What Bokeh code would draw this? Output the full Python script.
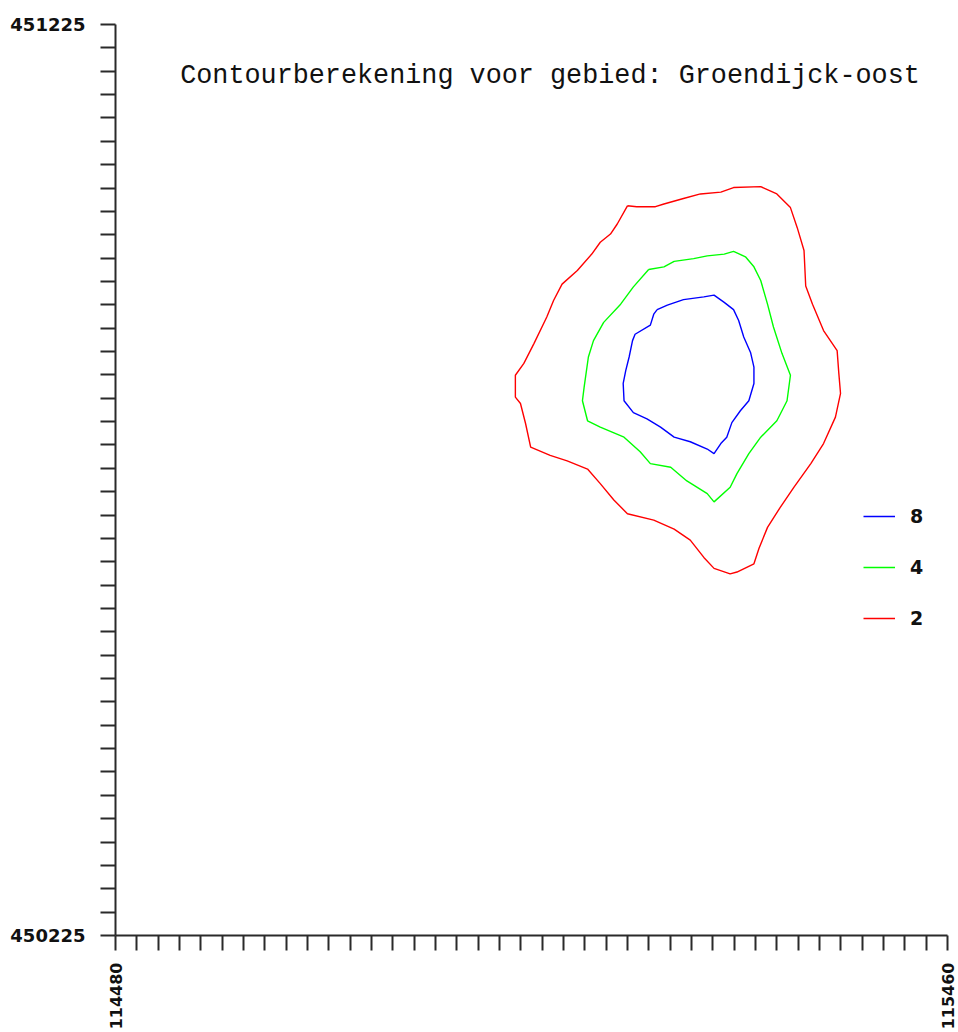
import numpy as np
from bokeh.plotting import figure
from bokeh.models import (Range1d, FixedTicker, CustomJSTickFormatter, Label,
                          Legend, LegendItem)
from bokeh.embed import file_html
from bokeh.resources import INLINE

# ---- data -------------------------------------------------------------
title_text = "Contourberekening voor gebied: Groendijck-oost"
x_min, x_max = 114480, 115460
y_min, y_max = 450225, 451225
n_ticks = 40

levels = ["8", "4", "2"]
level_colors = ["#0000FF", "#00FF00", "#FF0000"]

# contour level 2 (red)
c2_x = [115083, 115094, 115116, 115126, 115149, 115169, 115193, 115208, 115240, 115259,
        115275, 115283, 115291, 115293, 115301, 115314, 115330, 115332, 115334, 115328,
        115314, 115299, 115279, 115263, 115248, 115238, 115232, 115212, 115204, 115185,
        115173, 115157, 115138, 115114, 115083, 115067, 115051, 115036, 115012, 114992,
        114969, 114963, 114957, 114951, 114951, 114961, 114973, 114988, 114996, 115006,
        115024, 115041, 115051, 115063, 115071, 115083]
c2_y = [451026, 451025, 451025, 451028, 451034, 451039, 451041, 451046, 451047, 451039,
        451024, 451002, 450977, 450938, 450918, 450889, 450867, 450842, 450820, 450794,
        450765, 450743, 450717, 450695, 450673, 450650, 450633, 450624, 450622, 450628,
        450640, 450659, 450671, 450681, 450688, 450703, 450721, 450737, 450746, 450752,
        450761, 450787, 450809, 450816, 450840, 450853, 450875, 450904, 450922, 450940,
        450955, 450973, 450986, 450995, 451006, 451026]

# contour level 4 (green)
c4_x = [115108, 115126, 115138, 115161, 115177, 115197, 115208, 115222, 115232, 115240,
        115248, 115255, 115265, 115275, 115271, 115259, 115240, 115226, 115212, 115204,
        115185, 115177, 115153, 115134, 115110, 115098, 115079, 115051, 115036, 115030,
        115032, 115037, 115043, 115055, 115075, 115090, 115108]
c4_y = [450956, 450959, 450965, 450968, 450971, 450973, 450976, 450970, 450959, 450944,
        450918, 450893, 450864, 450840, 450812, 450790, 450772, 450754, 450732, 450717,
        450701, 450710, 450724, 450739, 450743, 450756, 450772, 450783, 450790, 450812,
        450827, 450860, 450878, 450898, 450918, 450937, 450956]

# contour level 8 (blue)
c8_x = [115118, 115130, 115149, 115173, 115185, 115197, 115208, 115214, 115220, 115228,
        115232, 115232, 115226, 115216, 115206, 115200, 115193, 115185, 115177, 115157,
        115138, 115122, 115106, 115090, 115079, 115078, 115081, 115085, 115089, 115092,
        115110, 115114, 115118]
c8_y = [450912, 450917, 450923, 450926, 450928, 450920, 450912, 450900, 450882, 450865,
        450849, 450831, 450812, 450801, 450788, 450772, 450765, 450754, 450759, 450767,
        450772, 450783, 450792, 450799, 450812, 450831, 450845, 450860, 450878, 450885,
        450895, 450907, 450912]

# ---- figure -----------------------------------------------------------
p = figure(width=958, height=1032, output_backend="svg", toolbar_location=None,
           x_range=Range1d(x_min, x_max), y_range=Range1d(y_min, y_max),
           min_border_left=115, min_border_top=24, min_border_right=11,
           min_border_bottom=97)
p.grid.visible = False
p.outline_line_color = None
p.background_fill_color = "white"
p.border_fill_color = "white"

xt = list(np.linspace(x_min, x_max, n_ticks))
yt = list(np.linspace(y_min, y_max, n_ticks))
fmt_code = "return (index == 0 || index == ticks.length - 1) ? tick.toFixed(0) : '';"

for ax, ticks in ((p.xaxis[0], xt), (p.yaxis[0], yt)):
    ax.ticker = FixedTicker(ticks=ticks)
    ax.formatter = CustomJSTickFormatter(code=fmt_code)
    ax.minor_tick_line_color = None
    ax.major_tick_in = 0
    ax.major_tick_out = 15
    ax.major_tick_line_width = 2
    ax.major_tick_line_color = "#2a2a2a"
    ax.axis_line_width = 2
    ax.axis_line_color = "#2a2a2a"
    ax.major_label_text_font = "DejaVu Sans"
    ax.major_label_text_font_style = "bold"
    ax.major_label_text_color = "#111111"

p.yaxis.major_label_text_font_size = "18px"
p.yaxis.major_label_standoff = 15
p.xaxis.major_label_text_font_size = "16px"
p.xaxis.major_label_orientation = np.pi / 2
p.xaxis.major_label_standoff = 12

r2 = p.line(c2_x, c2_y, line_color=level_colors[2], line_width=1.4)
r4 = p.line(c4_x, c4_y, line_color=level_colors[1], line_width=1.4)
r8 = p.line(c8_x, c8_y, line_color=level_colors[0], line_width=1.4)

legend = Legend(items=[LegendItem(label=levels[0], renderers=[r8]),
                       LegendItem(label=levels[1], renderers=[r4]),
                       LegendItem(label=levels[2], renderers=[r2])],
                location=(748, 306), padding=0, margin=0, spacing=29,
                glyph_width=32, glyph_height=20, label_height=20,
                label_standoff=15, border_line_color=None,
                background_fill_alpha=0,
                label_text_font="DejaVu Sans", label_text_font_style="bold",
                label_text_font_size="19px", label_text_color="#111111")
p.add_layout(legend)

p.add_layout(Label(x=434.5, y=860, x_units="screen", y_units="screen",
                   text=title_text, text_font="Liberation Mono",
                   text_font_size="26.8px", text_align="center",
                   text_baseline="alphabetic", text_color="#111111"))

open("out.html", "w").write(file_html(p, INLINE))
